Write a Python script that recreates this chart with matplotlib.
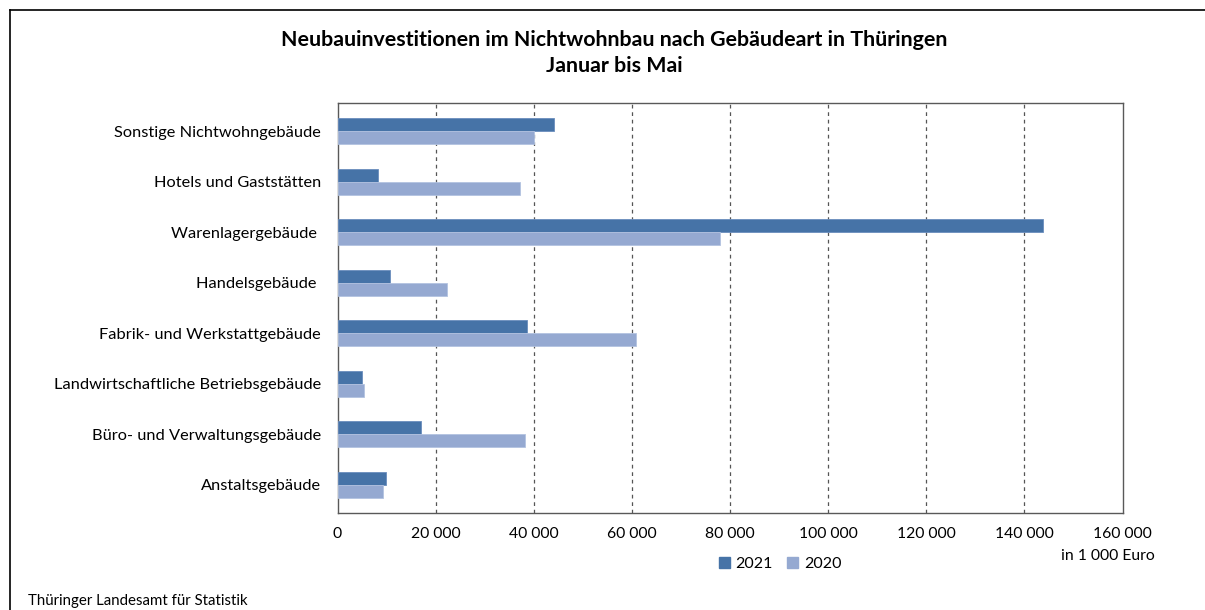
import matplotlib
matplotlib.use("Agg")
import matplotlib.pyplot as plt
from matplotlib.lines import Line2D
from matplotlib.ticker import FuncFormatter
import numpy as np

categories = [
    "Anstaltsgebäude",
    "Büro- und Verwaltungsgebäude",
    "Landwirtschaftliche Betriebsgebäude",
    "Fabrik- und Werkstattgebäude",
    "Handelsgebäude ",
    "Warenlagergebäude ",
    "Hotels und Gaststätten",
    "Sonstige Nichtwohngebäude",
]
values_2021 = [9800, 17100, 4900, 38600, 10600, 143800, 8300, 44200]
values_2020 = [9200, 38200, 5400, 60800, 22300, 77900, 37200, 40000]
series_labels = ["2021", "2020"]
xticks = [0, 20000, 40000, 60000, 80000, 100000, 120000, 140000, 160000]

plt.rcParams['font.family'] = ['Lato', 'DejaVu Sans']

fig = plt.figure(figsize=(12.05, 6.10), dpi=100)
ax = fig.add_axes([337.5/1205, 1 - 513/610, (1122.5-337.5)/1205, (513-103)/610])

c21 = "#4673a7"
c20 = "#95a9d1"
y = np.arange(len(categories))
h = 0.255
ax.barh(y + h/2, values_2021, height=h, color=c21, edgecolor="#6b8dbd", linewidth=0.6, label=series_labels[0], zorder=3)
ax.barh(y - h/2, values_2020, height=h, color=c20, edgecolor="#b3c3e0", linewidth=0.6, label=series_labels[1], zorder=3)

ax.set_xlim(0, 160000)
ax.set_ylim(-0.56, 7.56)
ax.set_xticks(xticks)
ax.xaxis.set_major_formatter(FuncFormatter(lambda v, p: f"{int(v):,}".replace(",", " ")))
ax.set_yticks(y)
ax.set_yticklabels(categories)
ax.tick_params(axis='both', length=0, colors="#000000")
ax.tick_params(axis='y', pad=12, labelsize=11.8)
ax.tick_params(axis='x', pad=10, labelsize=11.3)

for xv in xticks[1:-1]:
    ax.axvline(xv, color="#555555", linestyle=(0, (3, 3)), linewidth=0.9, zorder=1)

for s in ax.spines.values():
    s.set_color("#595959")
    s.set_linewidth(1.0)

fig.text(614/1205, 1 - 40/610, "Neubauinvestitionen im Nichtwohnbau nach Gebäudeart in Thüringen",
         ha="center", va="center", fontsize=15.4, fontweight="bold")
fig.text(614/1205, 1 - 66/610, "Januar bis Mai", ha="center", va="center", fontsize=15.4, fontweight="bold")

fig.text(1108/1205, 1 - 556/610, "in 1 000 Euro", ha="center", va="center", fontsize=11.3)
fig.text(28/1205, 1 - 601/610, "Thüringer Landesamt für Statistik", ha="left", va="center", fontsize=10.8)

handles = [plt.Rectangle((0, 0), 1, 1, color=c21), plt.Rectangle((0, 0), 1, 1, color=c20)]
fig.legend(handles, series_labels, loc="center", bbox_to_anchor=(780/1205, 1 - 564/610), ncol=2,
           frameon=False, fontsize=11.5, handlelength=0.7, handleheight=0.7, handletextpad=0.35,
           columnspacing=0.9)

# outer frame (top and left lines)
fig.add_artist(Line2D([10/1205, 1], [1 - 10/610, 1 - 10/610], color="black", linewidth=1.2))
fig.add_artist(Line2D([10/1205, 10/1205], [0, 1 - 10/610], color="black", linewidth=1.2))

fig.savefig("out.png", dpi=100)
